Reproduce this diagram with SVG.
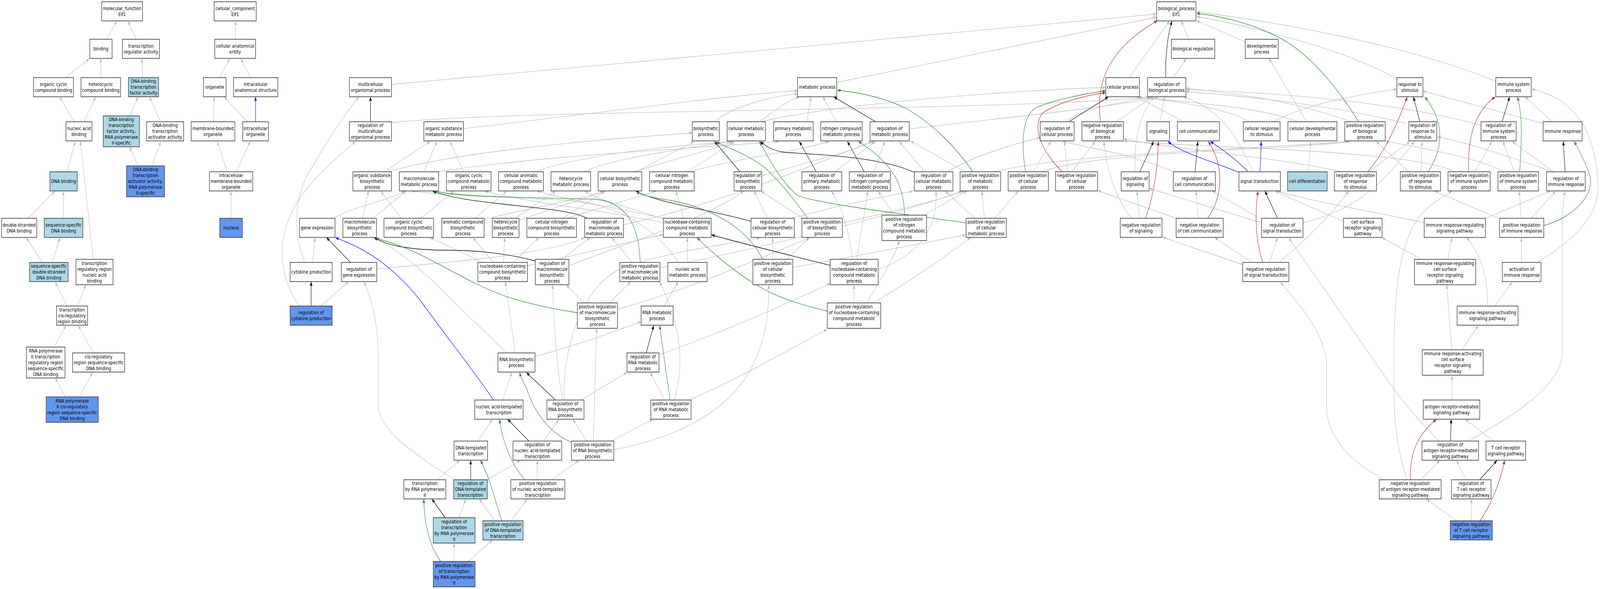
<svg xmlns="http://www.w3.org/2000/svg" width="5096" height="1507" viewBox="0 0 5096 1507" preserveAspectRatio="none">
<style>
:root{width:100vw;height:100vh}
.nd rect{stroke:#333;stroke-width:1.6}
.w{fill:#fff}.lb{fill:#ADD8E6}.cb{fill:#6495ED}
text{font-family:"DejaVu Sans","Liberation Sans",sans-serif;font-size:12.8px;fill:#000;text-anchor:middle}
#edges path{fill:none;stroke-width:1.3}
.g{stroke:#BEBEBE;marker-end:url(#mg)}
.k{stroke:#000;marker-end:url(#mk)}
.b{stroke:#0000FF;marker-end:url(#mb)}
.gr{stroke:#228B22;marker-end:url(#mgr)}
.r{stroke:#B22222;marker-end:url(#mr)}
</style>
<defs>
<marker id="mg" viewBox="0 0 10 8" refX="10" refY="4" markerWidth="10" markerHeight="8" markerUnits="userSpaceOnUse" orient="auto"><path d="M0,0L10,4L0,8z" fill="#BEBEBE"/></marker>
<marker id="mk" viewBox="0 0 10 8" refX="10" refY="4" markerWidth="10" markerHeight="8" markerUnits="userSpaceOnUse" orient="auto"><path d="M0,0L10,4L0,8z" fill="#000"/></marker>
<marker id="mb" viewBox="0 0 10 8" refX="10" refY="4" markerWidth="10" markerHeight="8" markerUnits="userSpaceOnUse" orient="auto"><path d="M0,0L10,4L0,8z" fill="#0000FF"/></marker>
<marker id="mgr" viewBox="0 0 10 8" refX="10" refY="4" markerWidth="10" markerHeight="8" markerUnits="userSpaceOnUse" orient="auto"><path d="M0,0L10,4L0,8z" fill="#228B22"/></marker>
<marker id="mr" viewBox="0 0 10 8" refX="10" refY="4" markerWidth="10" markerHeight="8" markerUnits="userSpaceOnUse" orient="auto"><path d="M0,0L10,4L0,8z" fill="#B22222"/></marker>
</defs>
<rect x="0" y="0" width="5096" height="1507" fill="#fff"/>
<g id="edges">
<path class="g" d="M339,101 L372,54"/>
<path class="g" d="M434,101 L408,54"/>
<path class="g" d="M208,199 L285,150"/>
<path class="g" d="M321,199 L321,150"/>
<path class="g" d="M454,198 L452,150"/>
<path class="g" d="M235,311 L190,248"/>
<path class="g" d="M267,311 L305,248"/>
<path class="g" d="M412,297 L440,248"/>
<path class="g" d="M511,311 L476,248"/>
<path class="g" d="M213,440 L240,362"/>
<path class="g" d="M297,663 L256,362"/>
<path class="g" d="M440,425 L413,376"/>
<path class="g" d="M484,425 L512,362"/>
<path class="g" d="M89,559 L175,489"/>
<path class="g" d="M202,559 L202,489"/>
<path class="g" d="M134,671 L84,608"/>
<path class="g" d="M167,671 L191,608"/>
<path class="g" d="M213,783 L176,722"/>
<path class="g" d="M246,783 L274,729"/>
<path class="g" d="M172,888 L210,833"/>
<path class="g" d="M297,903 L249,833"/>
<path class="g" d="M208,1016 L176,967"/>
<path class="g" d="M253,1016 L295,953"/>
<path class="g" d="M750,101 L750,54"/>
<path class="g" d="M699,199 L732,150"/>
<path class="g" d="M798,199 L767,150"/>
<path class="g" d="M680,311 L682,248"/>
<path class="g" d="M787,311 L714,248"/>
<path class="b" d="M814,311 L814,248"/>
<path class="g" d="M724,440 L692,362"/>
<path class="g" d="M752,440 L797,362"/>
<path class="g" d="M736,559 L736,489"/>
<path class="g" d="M3786,101 L3762,54"/>
<path class="g" d="M3966,107 L3811,53"/>
<path class="g" d="M3596,199 L3725,54"/>
<path class="g" d="M3736,199 L3778,150"/>
<path class="g" d="M3557,311 L3671,248"/>
<path class="g" d="M1247,216 L3683,36"/>
<path class="g" d="M2665,211 L3683,44"/>
<path class="g" d="M4449,203 C4300,130 4000,70 3811,42"/>
<path class="g" d="M4764,208 C4500,120 4100,60 3811,30"/>
<path class="g" d="M3395,311 C3450,275 3600,258 3662,248"/>
<path class="g" d="M3292,440 L3347,362"/>
<path class="g" d="M3315,440 C3500,385 4100,385 4300,362"/>
<path class="g" d="M3400,440 L3390,362"/>
<path class="g" d="M3413,440 L3489,362"/>
<path class="g" d="M2425,311 C2700,260 3300,228 3522,224"/>
<path class="g" d="M1247,314 C1600,280 3200,285 3668,248"/>
<path class="g" d="M2896,330 C3200,300 3550,275 3690,248"/>
<path class="g" d="M1476,329 C1800,300 2300,245 2540,232"/>
<path class="g" d="M2570,311 L2583,248"/>
<path class="g" d="M2664,311 L2621,248"/>
<path class="g" d="M2421,311 C2460,285 2500,262 2545,248"/>
<path class="g" d="M2277,311 C2330,275 2440,248 2540,240"/>
<path class="g" d="M1224,440 L1370,362"/>
<path class="g" d="M1232,440 C1450,390 1850,360 2205,340"/>
<path class="g" d="M1349,440 L1392,362"/>
<path class="g" d="M1390,440 C1700,400 2200,380 2480,362"/>
<path class="g" d="M1477,440 L1433,362"/>
<path class="g" d="M1700,440 C1900,385 2200,372 2330,362"/>
<path class="g" d="M1857,440 C1950,405 2200,378 2325,362"/>
<path class="g" d="M2020,440 C2150,405 2280,382 2335,362"/>
<path class="g" d="M2025,440 L2210,362"/>
<path class="g" d="M2188,440 L2340,362"/>
<path class="g" d="M2195,440 C2350,405 2550,385 2640,362"/>
<path class="g" d="M2426,450 C2550,420 2700,390 2786,362"/>
<path class="g" d="M2658,440 L2788,362"/>
<path class="g" d="M2783,440 L2818,362"/>
<path class="g" d="M2946,440 L2864,362"/>
<path class="g" d="M3016,440 C3100,400 3220,370 3313,352"/>
<path class="g" d="M3076,440 L2900,361"/>
<path class="g" d="M3163,440 C3400,392 4000,382 4295,362"/>
<path class="g" d="M1061,559 C1120,530 1230,515 1289,489"/>
<path class="g" d="M1154,559 L1174,489"/>
<path class="g" d="M1186,559 L1294,489"/>
<path class="g" d="M1278,559 L1213,489"/>
<path class="g" d="M1340,559 L1446,489"/>
<path class="g" d="M1512,559 L1614,489"/>
<path class="g" d="M1538,562 C1700,530 1850,510 1922,489"/>
<path class="g" d="M1640,559 L1770,489"/>
<path class="g" d="M1650,565 C1750,535 1880,505 1925,489"/>
<path class="g" d="M1803,559 L2090,489"/>
<path class="g" d="M1790,559 L1928,489"/>
<path class="g" d="M1986,575 C2300,520 2600,420 2776,362"/>
<path class="g" d="M2117,559 C1950,530 1800,510 1711,489"/>
<path class="g" d="M2120,562 C2000,530 1900,510 1863,489"/>
<path class="g" d="M2115,570 C1900,535 1650,515 1544,489"/>
<path class="g" d="M2177,559 L2153,489"/>
<path class="g" d="M2445,559 L2402,489"/>
<path class="g" d="M2520,559 C2650,530 2800,505 2908,489"/>
<path class="g" d="M2560,560 L2424,489"/>
<path class="g" d="M2683,570 C2850,540 3000,510 3070,489"/>
<path class="g" d="M2848,551 L2797,489"/>
<path class="g" d="M2940,551 C2990,530 3040,505 3080,489"/>
<path class="g" d="M3105,559 L3011,489"/>
<path class="g" d="M3136,559 L3127,489"/>
<path class="g" d="M3168,559 L3243,489"/>
<path class="g" d="M2715,663 C2705,600 2690,540 2648,489"/>
<path class="g" d="M2729,663 L2764,489"/>
<path class="g" d="M2797,690 C2900,660 2990,600 2981,489"/>
<path class="g" d="M2012,671 L1949,608"/>
<path class="g" d="M2102,685 C2400,640 2900,540 3062,489"/>
<path class="g" d="M2189,671 L2189,608"/>
<path class="g" d="M2160,671 C2100,600 2000,525 1800,512 C1600,505 1420,500 1310,489"/>
<path class="g" d="M2461,663 L2461,608"/>
<path class="g" d="M2508,663 L2577,608"/>
<path class="g" d="M2525,684 C2700,660 2950,620 3076,601"/>
<path class="g" d="M2720,775 L2720,729"/>
<path class="g" d="M2761,775 C2800,720 2850,660 2864,616"/>
<path class="g" d="M2780,775 C2900,720 3020,650 3092,608"/>
<path class="g" d="M995,671 L1004,608"/>
<path class="g" d="M970,671 C935,600 930,500 1000,420 C1050,350 1100,290 1143,248"/>
<path class="g" d="M1200,688 C1450,670 1750,650 1862,608"/>
<path class="g" d="M1538,671 L1370,608"/>
<path class="g" d="M1571,671 L1506,608"/>
<path class="g" d="M1603,671 L1608,608"/>
<path class="g" d="M1636,671 L1716,608"/>
<path class="g" d="M1680,680 C1850,650 2000,620 2112,600"/>
<path class="g" d="M1790,663 L1879,608"/>
<path class="g" d="M1812,680 C2000,620 2250,560 2369,489"/>
<path class="g" d="M956,783 C930,760 890,700 900,620 C920,500 1050,420 1132,362"/>
<path class="g" d="M1022,783 L1110,721"/>
<path class="g" d="M1860,775 L1803,729"/>
<path class="g" d="M1941,775 L2009,721"/>
<path class="g" d="M1967,791 C2200,740 2450,650 2580,608"/>
<path class="g" d="M2115,783 L2160,721"/>
<path class="g" d="M1704,912 C1850,880 1950,850 2042,823"/>
<path class="g" d="M1612,903 C1550,850 1450,780 1380,720 C1300,660 1240,630 1197,608"/>
<path class="g" d="M1640,903 C1630,830 1615,760 1610,721"/>
<path class="g" d="M1601,1023 L1630,953"/>
<path class="g" d="M1852,1023 L1997,953"/>
<path class="g" d="M1792,1023 C1775,950 1765,850 1760,729"/>
<path class="g" d="M1797,1023 C1790,900 1850,720 2000,680 C2200,630 2380,620 2420,608"/>
<path class="g" d="M2117,1023 L2071,953"/>
<path class="g" d="M2196,1023 C2350,970 2500,900 2634,843"/>
<path class="g" d="M2148,1023 C2175,950 2180,850 2101,721"/>
<path class="g" d="M2099,908 C2300,850 2500,780 2644,725"/>
<path class="g" d="M1868,1128 L1825,1073"/>
<path class="g" d="M1947,1128 L2079,1073"/>
<path class="g" d="M1890,1128 L1900,840"/>
<path class="g" d="M1955,1151 C2150,1120 2300,1060 2380,960 C2440,880 2450,800 2448,729"/>
<path class="g" d="M1522,1128 L1568,1073"/>
<path class="g" d="M1732,1128 L1780,1073"/>
<path class="g" d="M1711,1227 L1711,1178"/>
<path class="g" d="M1757,1227 L1845,1178"/>
<path class="g" d="M1392,1227 L1464,1178"/>
<path class="g" d="M1553,1227 L1658,1178"/>
<path class="g" d="M1446,1227 C1300,1150 1210,1100 1205,1040 L1205,920 C1205,820 1180,760 1160,721"/>
<path class="g" d="M1576,1332 L1527,1277"/>
<path class="g" d="M1628,1332 L1679,1277"/>
<path class="g" d="M1462,1325 L1484,1277"/>
<path class="g" d="M1446,1437 L1446,1390"/>
<path class="g" d="M1491,1437 L1568,1382"/>
<path class="g" d="M3695,311 L3709,248"/>
<path class="g" d="M3769,311 L3622,248"/>
<path class="g" d="M4056,311 C4150,270 4300,245 4449,228"/>
<path class="g" d="M3977,311 C3900,272 3700,256 3625,248"/>
<path class="g" d="M4161,311 L4042,150"/>
<path class="g" d="M4131,311 C4000,268 3700,258 3627,248"/>
<path class="g" d="M4167,440 L4175,362"/>
<path class="g" d="M3993,440 C3950,380 3920,290 3770,248"/>
<path class="g" d="M3616,440 C3610,360 3630,290 3676,248"/>
<path class="g" d="M3740,440 C3600,392 3450,376 3385,362"/>
<path class="g" d="M3630,559 L3621,489"/>
<path class="g" d="M3606,559 C3560,520 3525,440 3516,362"/>
<path class="g" d="M3817,559 L3809,489"/>
<path class="g" d="M3748,559 L3497,488"/>
<path class="g" d="M4018,570 L3660,482"/>
<path class="g" d="M4012,559 L3861,489"/>
<path class="g" d="M4150,570 C4350,530 4420,450 4505,362"/>
<path class="g" d="M4043,671 L4069,608"/>
<path class="g" d="M3958,677 L3703,607"/>
<path class="g" d="M3988,671 L3869,608"/>
<path class="g" d="M4075,671 C4150,620 4230,560 4296,489"/>
<path class="g" d="M4279,566 C4200,540 4120,510 4062,489"/>
<path class="g" d="M4536,570 C4400,545 4200,520 4070,489"/>
<path class="g" d="M4731,559 L4938,489"/>
<path class="g" d="M4876,559 L4955,489"/>
<path class="g" d="M4845,559 L4839,489"/>
<path class="g" d="M4776,560 L4570,489"/>
<path class="g" d="M4612,663 L4624,608"/>
<path class="g" d="M4526,663 L4402,608"/>
<path class="g" d="M4846,671 L4846,608"/>
<path class="g" d="M4898,671 C5000,620 5090,560 5090,480 C5085,320 5000,250 4879,228"/>
<path class="g" d="M4738,783 C4740,720 4720,650 4670,608"/>
<path class="g" d="M4762,783 C4780,760 4800,740 4816,722"/>
<path class="g" d="M4656,895 L4708,833"/>
<path class="g" d="M4624,895 L4608,729"/>
<path class="g" d="M4624,1023 L4625,961"/>
<path class="g" d="M4678,1128 C4850,1050 4976,980 4976,900 L4976,560 C4977,530 4980,510 4984,489"/>
<path class="g" d="M4582,1128 C4500,1060 4440,1000 4400,950 L4250,777 L4105,609"/>
<path class="g" d="M4757,1128 L4667,1073"/>
<path class="g" d="M4525,1227 L4586,1178"/>
<path class="g" d="M4407,1227 C4300,1180 4230,1120 4225,1048 L4225,926 C4215,850 4150,790 4078,722"/>
<path class="g" d="M4481,1227 C4450,1150 4440,1080 4440,1000 L4440,860 C4445,700 4470,600 4530,545 C4560,520 4595,505 4624,489"/>
<path class="g" d="M4669,1227 L4639,1178"/>
<path class="g" d="M4686,1332 L4686,1277"/>
<path class="g" d="M4639,1332 L4543,1277"/>
<path class="g" d="M4944,311 L4857,248"/>
<path class="g" d="M4915,316 L4532,233"/>
<path class="g" d="M4949,440 L4816,362"/>
<path class="g" d="M4949,440 C4800,400 4700,370 4578,350"/>
<path class="g" d="M4698,440 L4751,362"/>
<path class="g" d="M4823,440 L4787,362"/>
<path class="g" d="M4637,440 C4500,385 3900,380 3580,361"/>
<path class="g" d="M4792,440 C4700,400 4500,375 4412,361"/>
<path class="g" d="M4274,440 C4100,405 3700,378 3578,355"/>
<path class="g" d="M4358,440 L4491,362"/>
<path class="g" d="M4526,440 L4529,362"/>
<path class="g" d="M4488,440 L4383,362"/>
<path class="g" d="M4477,315 C4200,262 3900,242 3777,234"/>
<path class="g" d="M4717,320 C4400,252 4000,236 3778,229"/>
<path class="g" d="M4301,311 C4100,252 3900,236 3778,226"/>
<path class="k" d="M3713,199 C3711,150 3718,90 3733,54"/>
<path class="k" d="M3405,311 L3530,248"/>
<path class="k" d="M1180,311 L1180,248"/>
<path class="k" d="M2788,311 L2656,248"/>
<path class="k" d="M2357,440 L2276,362"/>
<path class="k" d="M2600,440 L2546,362"/>
<path class="k" d="M2753,440 L2699,362"/>
<path class="k" d="M2912,441 C2800,400 2600,395 2500,390 C2460,385 2440,375 2422,362"/>
<path class="k" d="M1871,559 C1800,525 1500,528 1378,489"/>
<path class="k" d="M2392,566 C2250,535 2100,520 2025,489"/>
<path class="k" d="M2644,679 C2500,650 2350,620 2266,601"/>
<path class="k" d="M1116,671 L1040,608"/>
<path class="k" d="M1706,668 C1600,645 1500,640 1400,640 C1300,638 1230,628 1192,608"/>
<path class="k" d="M991,783 L991,721"/>
<path class="k" d="M2058,903 L2082,833"/>
<path class="k" d="M1769,1023 C1740,1000 1710,980 1677,953"/>
<path class="k" d="M1684,1128 L1617,1073"/>
<path class="k" d="M1499,1227 L1499,1178"/>
<path class="k" d="M1418,1325 L1376,1277"/>
<path class="k" d="M3630,440 L3674,362"/>
<path class="k" d="M3806,440 L3815,362"/>
<path class="k" d="M4069,559 L4029,489"/>
<path class="k" d="M4522,311 L4502,248"/>
<path class="k" d="M4784,311 L4808,248"/>
<path class="k" d="M4985,440 L4979,362"/>
<path class="k" d="M4620,1128 L4622,1073"/>
<path class="k" d="M4713,1227 L4768,1178"/>
<path class="gr" d="M4327,311 C4280,250 4200,160 4100,108 C4010,65 3900,42 3811,34"/>
<path class="gr" d="M3266,440 C3255,380 3250,300 3300,275 C3380,250 3460,240 3522,232"/>
<path class="gr" d="M3099,440 C3040,370 2960,310 2880,275 C2800,245 2720,235 2667,231"/>
<path class="gr" d="M2572,559 C2540,520 2480,460 2430,425 C2360,385 2300,375 2283,362"/>
<path class="gr" d="M2881,551 C2880,480 2850,420 2734,362"/>
<path class="gr" d="M3077,570 C2850,545 2600,520 2540,500 C2480,460 2440,390 2418,362"/>
<path class="gr" d="M2039,671 C2035,580 2000,520 1900,510 C1700,505 1480,505 1382,489"/>
<path class="gr" d="M2429,663 C2390,600 2300,540 2150,515 C2080,505 2040,500 2027,489"/>
<path class="gr" d="M2635,796 C2550,780 2470,760 2405,727 C2330,690 2260,640 2220,608"/>
<path class="gr" d="M1839,800 C1750,790 1650,770 1600,755 C1450,710 1350,640 1197,610"/>
<path class="gr" d="M2134,1023 L2101,833"/>
<path class="gr" d="M1820,1131 C1750,1110 1700,1050 1680,1000 C1670,980 1660,970 1655,953"/>
<path class="gr" d="M1671,1227 C1630,1190 1600,1130 1591,1073"/>
<path class="gr" d="M1598,1332 C1580,1290 1560,1220 1530,1178"/>
<path class="gr" d="M1404,1437 C1370,1400 1350,1340 1350,1277"/>
<path class="gr" d="M4548,440 C4590,390 4610,320 4538,248"/>
<path class="gr" d="M4840,440 C4848,350 4848,290 4833,248"/>
<path class="gr" d="M4917,577 C5000,560 5090,500 5060,440 C5045,410 5030,385 5014,362"/>
<path class="r" d="M3505,311 C3490,220 3520,130 3686,53"/>
<path class="r" d="M3385,440 C3330,400 3280,330 3320,290 C3360,265 3450,245 3522,237"/>
<path class="r" d="M3648,559 C3675,500 3688,430 3689,362"/>
<path class="r" d="M3846,559 C3890,510 3905,430 3848,362"/>
<path class="r" d="M4022,671 C4000,620 3995,550 4007,489"/>
<path class="r" d="M4355,440 C4400,400 4440,340 4482,248"/>
<path class="r" d="M4677,440 C4675,360 4690,290 4762,248"/>
<path class="r" d="M4492,1227 C4490,1150 4520,1110 4575,1073"/>
<path class="r" d="M4714,1332 C4750,1290 4780,1230 4792,1178"/>
<path class="b" d="M1572,1024 C1520,960 1420,860 1340,770 C1260,690 1180,640 1068,608"/>
<path class="b" d="M3946,441 C3850,410 3760,390 3720,362"/>
<path class="b" d="M3976,440 C3940,410 3890,380 3855,362"/>
<path class="b" d="M4013,440 L4017,362"/>
</g>
<g id="mf" class="nd"><rect class="w" x="324" y="4.5" width="130" height="49"/><text x="389" y="26"><tspan x="389">molecular_function</tspan><tspan x="389" dy="15">Elf1</tspan></text></g>
<g id="binding" class="nd"><rect class="w" x="286" y="100.5" width="71" height="49"/><text x="321.5" y="129.5">binding</text></g>
<g id="trra" class="nd"><rect class="w" x="390" y="100.5" width="118" height="49"/><text x="449" y="122"><tspan x="449">transcription</tspan><tspan x="449" dy="15">regulator activity</tspan></text></g>
<g id="occb" class="nd"><rect class="w" x="107" y="198.5" width="127" height="49"/><text x="170.5" y="220"><tspan x="170.5">organic cyclic</tspan><tspan x="170.5" dy="15">compound binding</tspan></text></g>
<g id="hcb" class="nd"><rect class="w" x="258" y="198.5" width="126" height="49"/><text x="321" y="220"><tspan x="321">heterocyclic</tspan><tspan x="321" dy="15">compound binding</tspan></text></g>
<g id="dbtfa" class="nd"><rect class="lb" x="409" y="198.5" width="96" height="49"/><text x="457" y="212.5"><tspan x="457">DNA-binding</tspan><tspan x="457" dy="15">transcription</tspan><tspan x="457" dy="15">factor activity</tspan></text></g>
<g id="nab" class="nd"><rect class="w" x="210" y="311.5" width="83" height="49"/><text x="251.5" y="333"><tspan x="251.5">nucleic acid</tspan><tspan x="251.5" dy="15">binding</tspan></text></g>
<g id="dbtfa2" class="nd"><rect class="lb" x="329" y="296.5" width="115" height="79"/><text x="386.5" y="310.5"><tspan x="386.5">DNA-binding</tspan><tspan x="386.5" dy="15">transcription</tspan><tspan x="386.5" dy="15">factor activity,</tspan><tspan x="386.5" dy="15">RNA polymerase</tspan><tspan x="386.5" dy="15">II-specific</tspan></text></g>
<g id="dbtaa" class="nd"><rect class="w" x="467" y="311.5" width="118" height="49"/><text x="526" y="325.5"><tspan x="526">DNA-binding</tspan><tspan x="526" dy="15">transcription</tspan><tspan x="526" dy="15">activator activity</tspan></text></g>
<g id="dnab" class="nd"><rect class="lb" x="159" y="439.5" width="87" height="49"/><text x="202.5" y="468.5">DNA binding</text></g>
<g id="dbtaa2" class="nd"><rect class="cb" x="403" y="424.5" width="121" height="79"/><text x="463.5" y="438.5"><tspan x="463.5">DNA-binding</tspan><tspan x="463.5" dy="15">transcription</tspan><tspan x="463.5" dy="15">activator activity,</tspan><tspan x="463.5" dy="15">RNA polymerase</tspan><tspan x="463.5" dy="15">II-specific</tspan></text></g>
<g id="dsdb" class="nd"><rect class="w" x="5" y="558.5" width="112" height="49"/><text x="61" y="580"><tspan x="61">double-stranded</tspan><tspan x="61" dy="15">DNA binding</tspan></text></g>
<g id="ssdb" class="nd"><rect class="lb" x="141" y="558.5" width="123" height="49"/><text x="202.5" y="580"><tspan x="202.5">sequence-specific</tspan><tspan x="202.5" dy="15">DNA binding</tspan></text></g>
<g id="ssdsdb" class="nd"><rect class="lb" x="94" y="671.5" width="123" height="49"/><text x="155.5" y="685.5"><tspan x="155.5">sequence-specific</tspan><tspan x="155.5" dy="15">double-stranded</tspan><tspan x="155.5" dy="15">DNA binding</tspan></text></g>
<g id="trrnab" class="nd"><rect class="w" x="242" y="663.5" width="118" height="65"/><text x="301" y="678"><tspan x="301">transcription</tspan><tspan x="301" dy="15">regulatory region</tspan><tspan x="301" dy="15">nucleic acid</tspan><tspan x="301" dy="15">binding</tspan></text></g>
<g id="tcrrb" class="nd"><rect class="w" x="180" y="783" width="99" height="49"/><text x="229.5" y="797"><tspan x="229.5">transcription</tspan><tspan x="229.5" dy="15">cis-regulatory</tspan><tspan x="229.5" dy="15">region binding</tspan></text></g>
<g id="rp2trr" class="nd"><rect class="w" x="84" y="888" width="123" height="79"/><text x="145.5" y="902"><tspan x="145.5">RNA polymerase</tspan><tspan x="145.5" dy="15">II transcription</tspan><tspan x="145.5" dy="15">regulatory region</tspan><tspan x="145.5" dy="15">sequence-specific</tspan><tspan x="145.5" dy="15">DNA binding</tspan></text></g>
<g id="crrssdb" class="nd"><rect class="w" x="231" y="903" width="166" height="49"/><text x="314" y="917"><tspan x="314">cis-regulatory</tspan><tspan x="314" dy="15">region sequence-specific</tspan><tspan x="314" dy="15">DNA binding</tspan></text></g>
<g id="rp2crr" class="nd"><rect class="cb" x="147" y="1015.5" width="166" height="65"/><text x="230" y="1030"><tspan x="230">RNA polymerase</tspan><tspan x="230" dy="15">II cis-regulatory</tspan><tspan x="230" dy="15">region sequence-specific</tspan><tspan x="230" dy="15">DNA binding</tspan></text></g>
<g id="cc" class="nd"><rect class="w" x="682" y="4.5" width="134" height="49"/><text x="749" y="26"><tspan x="749">cellular_component</tspan><tspan x="749" dy="15">Elf1</tspan></text></g>
<g id="cae" class="nd"><rect class="w" x="684" y="100.5" width="130" height="49"/><text x="749" y="122"><tspan x="749">cellular anatomical</tspan><tspan x="749" dy="15">entity</tspan></text></g>
<g id="org" class="nd"><rect class="w" x="648" y="198.5" width="72" height="49"/><text x="684" y="227.5">organelle</text></g>
<g id="ias" class="nd"><rect class="w" x="744" y="198.5" width="141" height="49"/><text x="814.5" y="220"><tspan x="814.5">intracellular</tspan><tspan x="814.5" dy="15">anatomical structure</tspan></text></g>
<g id="mbo" class="nd"><rect class="w" x="609" y="311.5" width="139" height="49"/><text x="678.5" y="333"><tspan x="678.5">membrane-bounded</tspan><tspan x="678.5" dy="15">organelle</tspan></text></g>
<g id="io" class="nd"><rect class="w" x="773" y="311.5" width="82" height="49"/><text x="814" y="333"><tspan x="814">intracellular</tspan><tspan x="814" dy="15">organelle</tspan></text></g>
<g id="imbo" class="nd"><rect class="w" x="667" y="439.5" width="138" height="49"/><text x="736" y="453.5"><tspan x="736">intracellular</tspan><tspan x="736" dy="15">membrane-bounded</tspan><tspan x="736" dy="15">organelle</tspan></text></g>
<g id="nuc" class="nd"><rect class="cb" x="700" y="558.5" width="72" height="49"/><text x="736" y="587.5">nucleus</text></g>
<g id="bp" class="nd"><rect class="w" x="3684" y="4.5" width="125" height="49"/><text x="3746.5" y="26"><tspan x="3746.5">biological_process</tspan><tspan x="3746.5" dy="15">Elf1</tspan></text></g>
<g id="breg" class="nd"><rect class="w" x="3731" y="100.5" width="138" height="49"/><text x="3800" y="129.5">biological regulation</text></g>
<g id="dev" class="nd"><rect class="w" x="3966" y="100.5" width="105" height="49"/><text x="4018.5" y="122"><tspan x="4018.5">developmental</tspan><tspan x="4018.5" dy="15">process</tspan></text></g>
<g id="mop" class="nd"><rect class="w" x="1113" y="198.5" width="134" height="49"/><text x="1180" y="220"><tspan x="1180">multicellular</tspan><tspan x="1180" dy="15">organismal process</tspan></text></g>
<g id="mp" class="nd"><rect class="w" x="2540" y="198.5" width="125" height="49"/><text x="2602.5" y="227.5">metabolic process</text></g>
<g id="cp" class="nd"><rect class="w" x="3522" y="198.5" width="107" height="49"/><text x="3575.5" y="227.5">cellular process</text></g>
<g id="rbp" class="nd"><rect class="w" x="3655" y="198.5" width="122" height="49"/><text x="3716" y="220"><tspan x="3716">regulation of</tspan><tspan x="3716" dy="15">biological process</tspan></text></g>
<g id="rs" class="nd"><rect class="w" x="4449" y="198.5" width="83" height="49"/><text x="4490.5" y="220"><tspan x="4490.5">response to</tspan><tspan x="4490.5" dy="15">stimulus</tspan></text></g>
<g id="isp" class="nd"><rect class="w" x="4764" y="198.5" width="113" height="49"/><text x="4820.5" y="220"><tspan x="4820.5">immune system</tspan><tspan x="4820.5" dy="15">process</tspan></text></g>
<g id="rmop" class="nd"><rect class="w" x="1113" y="311.5" width="134" height="49"/><text x="1180" y="325.5"><tspan x="1180">regulation of</tspan><tspan x="1180" dy="15">multicellular</tspan><tspan x="1180" dy="15">organismal process</tspan></text></g>
<g id="osmp" class="nd"><rect class="w" x="1350" y="311.5" width="126" height="49"/><text x="1413" y="333"><tspan x="1413">organic substance</tspan><tspan x="1413" dy="15">metabolic process</tspan></text></g>
<g id="bsp" class="nd"><rect class="w" x="2205" y="311.5" width="86" height="49"/><text x="2248" y="333"><tspan x="2248">biosynthetic</tspan><tspan x="2248" dy="15">process</tspan></text></g>
<g id="cmp" class="nd"><rect class="w" x="2316" y="311.5" width="122" height="49"/><text x="2377" y="333"><tspan x="2377">cellular metabolic</tspan><tspan x="2377" dy="15">process</tspan></text></g>
<g id="pmp" class="nd"><rect class="w" x="2464" y="311.5" width="126" height="49"/><text x="2527" y="333"><tspan x="2527">primary metabolic</tspan><tspan x="2527" dy="15">process</tspan></text></g>
<g id="ncmp" class="nd"><rect class="w" x="2614" y="311.5" width="132" height="49"/><text x="2680" y="333"><tspan x="2680">nitrogen compound</tspan><tspan x="2680" dy="15">metabolic process</tspan></text></g>
<g id="rmp" class="nd"><rect class="w" x="2771" y="311.5" width="125" height="49"/><text x="2833.5" y="333"><tspan x="2833.5">regulation of</tspan><tspan x="2833.5" dy="15">metabolic process</tspan></text></g>
<g id="rcp" class="nd"><rect class="w" x="3313" y="311.5" width="108" height="49"/><text x="3367" y="333"><tspan x="3367">regulation of</tspan><tspan x="3367" dy="15">cellular process</tspan></text></g>
<g id="nrbp" class="nd"><rect class="w" x="3446" y="311.5" width="132" height="49"/><text x="3512" y="325.5"><tspan x="3512">negative regulation</tspan><tspan x="3512" dy="15">of biological</tspan><tspan x="3512" dy="15">process</tspan></text></g>
<g id="sig" class="nd"><rect class="w" x="3653" y="311.5" width="72" height="49"/><text x="3689" y="340.5">signaling</text></g>
<g id="cc2" class="nd"><rect class="w" x="3750" y="311.5" width="134" height="49"/><text x="3817" y="340.5">cell communication</text></g>
<g id="crs" class="nd"><rect class="w" x="3960" y="311.5" width="117" height="49"/><text x="4018.5" y="333"><tspan x="4018.5">cellular response</tspan><tspan x="4018.5" dy="15">to stimulus</tspan></text></g>
<g id="cdp" class="nd"><rect class="w" x="4102" y="311.5" width="156" height="49"/><text x="4180" y="333"><tspan x="4180">cellular developmental</tspan><tspan x="4180" dy="15">process</tspan></text></g>
<g id="prbp" class="nd"><rect class="w" x="4283" y="311.5" width="129" height="49"/><text x="4347.5" y="325.5"><tspan x="4347.5">positive regulation</tspan><tspan x="4347.5" dy="15">of biological</tspan><tspan x="4347.5" dy="15">process</tspan></text></g>
<g id="rrs" class="nd"><rect class="w" x="4487" y="311.5" width="89" height="49"/><text x="4531.5" y="325.5"><tspan x="4531.5">regulation of</tspan><tspan x="4531.5" dy="15">response to</tspan><tspan x="4531.5" dy="15">stimulus</tspan></text></g>
<g id="risp" class="nd"><rect class="w" x="4717" y="311.5" width="112" height="49"/><text x="4773" y="325.5"><tspan x="4773">regulation of</tspan><tspan x="4773" dy="15">immune system</tspan><tspan x="4773" dy="15">process</tspan></text></g>
<g id="ir" class="nd"><rect class="w" x="4915" y="311.5" width="124" height="49"/><text x="4977" y="340.5">immune response</text></g>
<g id="osbp" class="nd"><rect class="w" x="1124" y="439.5" width="123" height="49"/><text x="1185.5" y="453.5"><tspan x="1185.5">organic substance</tspan><tspan x="1185.5" dy="15">biosynthetic</tspan><tspan x="1185.5" dy="15">process</tspan></text></g>
<g id="mmp" class="nd"><rect class="w" x="1272" y="439.5" width="125" height="49"/><text x="1334.5" y="461"><tspan x="1334.5">macromolecule</tspan><tspan x="1334.5" dy="15">metabolic process</tspan></text></g>
<g id="occmp" class="nd"><rect class="w" x="1422" y="439.5" width="142" height="49"/><text x="1493" y="453.5"><tspan x="1493">organic cyclic</tspan><tspan x="1493" dy="15">compound metabolic</tspan><tspan x="1493" dy="15">process</tspan></text></g>
<g id="camp" class="nd"><rect class="w" x="1588" y="439.5" width="143" height="49"/><text x="1659.5" y="453.5"><tspan x="1659.5">cellular aromatic</tspan><tspan x="1659.5" dy="15">compound metabolic</tspan><tspan x="1659.5" dy="15">process</tspan></text></g>
<g id="hmp" class="nd"><rect class="w" x="1755" y="439.5" width="126" height="49"/><text x="1818" y="461"><tspan x="1818">heterocycle</tspan><tspan x="1818" dy="15">metabolic process</tspan></text></g>
<g id="cbp" class="nd"><rect class="w" x="1905" y="439.5" width="139" height="49"/><text x="1974.5" y="461"><tspan x="1974.5">cellular biosynthetic</tspan><tspan x="1974.5" dy="15">process</tspan></text></g>
<g id="cncmp" class="nd"><rect class="w" x="2069" y="439.5" width="142" height="49"/><text x="2140" y="453.5"><tspan x="2140">cellular nitrogen</tspan><tspan x="2140" dy="15">compound metabolic</tspan><tspan x="2140" dy="15">process</tspan></text></g>
<g id="rbsp" class="nd"><rect class="w" x="2338" y="439.5" width="88" height="49"/><text x="2382" y="453.5"><tspan x="2382">regulation of</tspan><tspan x="2382" dy="15">biosynthetic</tspan><tspan x="2382" dy="15">process</tspan></text></g>
<g id="rpmp" class="nd"><rect class="w" x="2554" y="439.5" width="127" height="49"/><text x="2617.5" y="453.5"><tspan x="2617.5">regulation of</tspan><tspan x="2617.5" dy="15">primary metabolic</tspan><tspan x="2617.5" dy="15">process</tspan></text></g>
<g id="rncmp" class="nd"><rect class="w" x="2705" y="439.5" width="131" height="49"/><text x="2770.5" y="453.5"><tspan x="2770.5">regulation of</tspan><tspan x="2770.5" dy="15">nitrogen compound</tspan><tspan x="2770.5" dy="15">metabolic process</tspan></text></g>
<g id="rcmp" class="nd"><rect class="w" x="2912" y="439.5" width="123" height="49"/><text x="2973.5" y="453.5"><tspan x="2973.5">regulation of</tspan><tspan x="2973.5" dy="15">cellular metabolic</tspan><tspan x="2973.5" dy="15">process</tspan></text></g>
<g id="prmp" class="nd"><rect class="w" x="3058" y="439.5" width="129" height="49"/><text x="3122.5" y="453.5"><tspan x="3122.5">positive regulation</tspan><tspan x="3122.5" dy="15">of metabolic</tspan><tspan x="3122.5" dy="15">process</tspan></text></g>
<g id="prcp" class="nd"><rect class="w" x="3211" y="439.5" width="128" height="49"/><text x="3275" y="453.5"><tspan x="3275">positive regulation</tspan><tspan x="3275" dy="15">of cellular</tspan><tspan x="3275" dy="15">process</tspan></text></g>
<g id="nrcp" class="nd"><rect class="w" x="3362" y="439.5" width="134" height="49"/><text x="3429" y="453.5"><tspan x="3429">negative regulation</tspan><tspan x="3429" dy="15">of cellular</tspan><tspan x="3429" dy="15">process</tspan></text></g>
<g id="rsig" class="nd"><rect class="w" x="3571" y="439.5" width="89" height="49"/><text x="3615.5" y="461"><tspan x="3615.5">regulation of</tspan><tspan x="3615.5" dy="15">signaling</tspan></text></g>
<g id="rcc" class="nd"><rect class="w" x="3737" y="439.5" width="134" height="49"/><text x="3804" y="461"><tspan x="3804">regulation of</tspan><tspan x="3804" dy="15">cell communication</tspan></text></g>
<g id="st" class="nd"><rect class="w" x="3946" y="439.5" width="132" height="49"/><text x="4012" y="468.5">signal transduction</text></g>
<g id="cd" class="nd"><rect class="lb" x="4101" y="439.5" width="126" height="49"/><text x="4164" y="468.5">cell differentiation</text></g>
<g id="nrrs" class="nd"><rect class="w" x="4250" y="439.5" width="134" height="49"/><text x="4317" y="453.5"><tspan x="4317">negative regulation</tspan><tspan x="4317" dy="15">of response</tspan><tspan x="4317" dy="15">to stimulus</tspan></text></g>
<g id="prrs" class="nd"><rect class="w" x="4460" y="439.5" width="128" height="49"/><text x="4524" y="453.5"><tspan x="4524">positive regulation</tspan><tspan x="4524" dy="15">of response</tspan><tspan x="4524" dy="15">to stimulus</tspan></text></g>
<g id="nrisp" class="nd"><rect class="w" x="4612" y="439.5" width="134" height="49"/><text x="4679" y="453.5"><tspan x="4679">negative regulation</tspan><tspan x="4679" dy="15">of immune system</tspan><tspan x="4679" dy="15">process</tspan></text></g>
<g id="prisp" class="nd"><rect class="w" x="4771" y="439.5" width="129" height="49"/><text x="4835.5" y="453.5"><tspan x="4835.5">positive regulation</tspan><tspan x="4835.5" dy="15">of immune system</tspan><tspan x="4835.5" dy="15">process</tspan></text></g>
<g id="rir" class="nd"><rect class="w" x="4926" y="439.5" width="123" height="49"/><text x="4987.5" y="461"><tspan x="4987.5">regulation of</tspan><tspan x="4987.5" dy="15">immune response</tspan></text></g>
<g id="ge" class="nd"><rect class="w" x="954" y="558.5" width="113" height="49"/><text x="1010.5" y="587.5">gene expression</text></g>
<g id="mbp" class="nd"><rect class="w" x="1092" y="558.5" width="107" height="49"/><text x="1145.5" y="572.5"><tspan x="1145.5">macromolecule</tspan><tspan x="1145.5" dy="15">biosynthetic</tspan><tspan x="1145.5" dy="15">process</tspan></text></g>
<g id="occbp" class="nd"><rect class="w" x="1223" y="558.5" width="158" height="49"/><text x="1302" y="572.5"><tspan x="1302">organic cyclic</tspan><tspan x="1302" dy="15">compound biosynthetic</tspan><tspan x="1302" dy="15">process</tspan></text></g>
<g id="acbp" class="nd"><rect class="w" x="1407" y="558.5" width="135" height="49"/><text x="1474.5" y="572.5"><tspan x="1474.5">aromatic compound</tspan><tspan x="1474.5" dy="15">biosynthetic</tspan><tspan x="1474.5" dy="15">process</tspan></text></g>
<g id="hbp" class="nd"><rect class="w" x="1568" y="558.5" width="85" height="49"/><text x="1610.5" y="572.5"><tspan x="1610.5">heterocycle</tspan><tspan x="1610.5" dy="15">biosynthetic</tspan><tspan x="1610.5" dy="15">process</tspan></text></g>
<g id="cncbp" class="nd"><rect class="w" x="1678" y="558.5" width="158" height="49"/><text x="1757" y="572.5"><tspan x="1757">cellular nitrogen</tspan><tspan x="1757" dy="15">compound biosynthetic</tspan><tspan x="1757" dy="15">process</tspan></text></g>
<g id="rmmp" class="nd"><rect class="w" x="1862" y="558.5" width="124" height="49"/><text x="1924" y="572.5"><tspan x="1924">regulation of</tspan><tspan x="1924" dy="15">macromolecule</tspan><tspan x="1924" dy="15">metabolic process</tspan></text></g>
<g id="nucmp" class="nd"><rect class="w" x="2113" y="558.5" width="152" height="49"/><text x="2189" y="572.5"><tspan x="2189">nucleobase-containing</tspan><tspan x="2189" dy="15">compound metabolic</tspan><tspan x="2189" dy="15">process</tspan></text></g>
<g id="rcbp" class="nd"><rect class="w" x="2392" y="558.5" width="138" height="49"/><text x="2461" y="572.5"><tspan x="2461">regulation of</tspan><tspan x="2461" dy="15">cellular biosynthetic</tspan><tspan x="2461" dy="15">process</tspan></text></g>
<g id="prbsp" class="nd"><rect class="w" x="2554" y="558.5" width="129" height="49"/><text x="2618.5" y="572.5"><tspan x="2618.5">positive regulation</tspan><tspan x="2618.5" dy="15">of biosynthetic</tspan><tspan x="2618.5" dy="15">process</tspan></text></g>
<g id="prncmp" class="nd"><rect class="w" x="2809" y="550.5" width="142" height="65"/><text x="2880" y="565"><tspan x="2880">positive regulation</tspan><tspan x="2880" dy="15">of nitrogen</tspan><tspan x="2880" dy="15">compound metabolic</tspan><tspan x="2880" dy="15">process</tspan></text></g>
<g id="prcmp" class="nd"><rect class="w" x="3077" y="558.5" width="128" height="49"/><text x="3141" y="572.5"><tspan x="3141">positive regulation</tspan><tspan x="3141" dy="15">of cellular</tspan><tspan x="3141" dy="15">metabolic process</tspan></text></g>
<g id="nrsig" class="nd"><rect class="w" x="3568" y="558.5" width="133" height="49"/><text x="3634.5" y="580"><tspan x="3634.5">negative regulation</tspan><tspan x="3634.5" dy="15">of signaling</tspan></text></g>
<g id="nrcc" class="nd"><rect class="w" x="3746" y="558.5" width="150" height="49"/><text x="3821" y="580"><tspan x="3821">negative regulation</tspan><tspan x="3821" dy="15">of cell communication</tspan></text></g>
<g id="rst" class="nd"><rect class="w" x="4018" y="558.5" width="132" height="49"/><text x="4084" y="580"><tspan x="4084">regulation of</tspan><tspan x="4084" dy="15">signal transduction</tspan></text></g>
<g id="csrsp" class="nd"><rect class="w" x="4279" y="558.5" width="123" height="49"/><text x="4340.5" y="572.5"><tspan x="4340.5">cell surface</tspan><tspan x="4340.5" dy="15">receptor signaling</tspan><tspan x="4340.5" dy="15">pathway</tspan></text></g>
<g id="irrsp" class="nd"><rect class="w" x="4536" y="558.5" width="195" height="49"/><text x="4633.5" y="580"><tspan x="4633.5">immune response-regulating</tspan><tspan x="4633.5" dy="15">signaling pathway</tspan></text></g>
<g id="prir" class="nd"><rect class="w" x="4776" y="558.5" width="141" height="49"/><text x="4846.5" y="580"><tspan x="4846.5">positive regulation</tspan><tspan x="4846.5" dy="15">of immune response</tspan></text></g>
<g id="cyp" class="nd"><rect class="w" x="924" y="671.5" width="134" height="49"/><text x="991" y="700.5">cytokine production</text></g>
<g id="rge" class="nd"><rect class="w" x="1087" y="671.5" width="113" height="49"/><text x="1143.5" y="693"><tspan x="1143.5">regulation of</tspan><tspan x="1143.5" dy="15">gene expression</tspan></text></g>
<g id="nucbp" class="nd"><rect class="w" x="1522" y="671.5" width="158" height="49"/><text x="1601" y="685.5"><tspan x="1601">nucleobase-containing</tspan><tspan x="1601" dy="15">compound biosynthetic</tspan><tspan x="1601" dy="15">process</tspan></text></g>
<g id="rmbp" class="nd"><rect class="w" x="1705" y="663.5" width="107" height="65"/><text x="1758.5" y="678"><tspan x="1758.5">regulation of</tspan><tspan x="1758.5" dy="15">macromolecule</tspan><tspan x="1758.5" dy="15">biosynthetic</tspan><tspan x="1758.5" dy="15">process</tspan></text></g>
<g id="prmmp" class="nd"><rect class="w" x="1974" y="671.5" width="128" height="49"/><text x="2038" y="685.5"><tspan x="2038">positive regulation</tspan><tspan x="2038" dy="15">of macromolecule</tspan><tspan x="2038" dy="15">metabolic process</tspan></text></g>
<g id="namp" class="nd"><rect class="w" x="2127" y="671.5" width="125" height="49"/><text x="2189.5" y="693"><tspan x="2189.5">nucleic acid</tspan><tspan x="2189.5" dy="15">metabolic process</tspan></text></g>
<g id="prcbp" class="nd"><rect class="w" x="2398" y="663.5" width="127" height="65"/><text x="2461.5" y="678"><tspan x="2461.5">positive regulation</tspan><tspan x="2461.5" dy="15">of cellular</tspan><tspan x="2461.5" dy="15">biosynthetic</tspan><tspan x="2461.5" dy="15">process</tspan></text></g>
<g id="rnucmp" class="nd"><rect class="w" x="2644" y="663.5" width="153" height="65"/><text x="2720.5" y="678"><tspan x="2720.5">regulation of</tspan><tspan x="2720.5" dy="15">nucleobase-containing</tspan><tspan x="2720.5" dy="15">compound metabolic</tspan><tspan x="2720.5" dy="15">process</tspan></text></g>
<g id="nrst" class="nd"><rect class="w" x="3958" y="671.5" width="147" height="49"/><text x="4031.5" y="693"><tspan x="4031.5">negative regulation</tspan><tspan x="4031.5" dy="15">of signal transduction</tspan></text></g>
<g id="irrcsrsp" class="nd"><rect class="w" x="4505" y="663.5" width="195" height="65"/><text x="4602.5" y="678"><tspan x="4602.5">immune response-regulating</tspan><tspan x="4602.5" dy="15">cell surface</tspan><tspan x="4602.5" dy="15">receptor signaling</tspan><tspan x="4602.5" dy="15">pathway</tspan></text></g>
<g id="air" class="nd"><rect class="w" x="4785" y="671.5" width="123" height="49"/><text x="4846.5" y="693"><tspan x="4846.5">activation of</tspan><tspan x="4846.5" dy="15">immune response</tspan></text></g>
<g id="rcyp" class="nd"><rect class="cb" x="924" y="783" width="134" height="49"/><text x="991" y="804.5"><tspan x="991">regulation of</tspan><tspan x="991" dy="15">cytokine production</tspan></text></g>
<g id="prmbp" class="nd"><rect class="w" x="1839" y="775" width="128" height="65"/><text x="1903" y="789.5"><tspan x="1903">positive regulation</tspan><tspan x="1903" dy="15">of macromolecule</tspan><tspan x="1903" dy="15">biosynthetic</tspan><tspan x="1903" dy="15">process</tspan></text></g>
<g id="rnamp" class="nd"><rect class="w" x="2042" y="783" width="102" height="49"/><text x="2093" y="804.5"><tspan x="2093">RNA metabolic</tspan><tspan x="2093" dy="15">process</tspan></text></g>
<g id="prnucmp" class="nd"><rect class="w" x="2635" y="775" width="170" height="65"/><text x="2720" y="789.5"><tspan x="2720">positive regulation</tspan><tspan x="2720" dy="15">of nucleobase-containing</tspan><tspan x="2720" dy="15">compound metabolic</tspan><tspan x="2720" dy="15">process</tspan></text></g>
<g id="irasp" class="nd"><rect class="w" x="4641" y="783" width="194" height="49"/><text x="4738" y="804.5"><tspan x="4738">immune response-activating</tspan><tspan x="4738" dy="15">signaling pathway</tspan></text></g>
<g id="rnabp" class="nd"><rect class="w" x="1586" y="903" width="118" height="49"/><text x="1645" y="924.5"><tspan x="1645">RNA biosynthetic</tspan><tspan x="1645" dy="15">process</tspan></text></g>
<g id="rrnamp" class="nd"><rect class="w" x="1997" y="903" width="102" height="49"/><text x="2048" y="917"><tspan x="2048">regulation of</tspan><tspan x="2048" dy="15">RNA metabolic</tspan><tspan x="2048" dy="15">process</tspan></text></g>
<g id="iracsrsp" class="nd"><rect class="w" x="4530" y="895" width="194" height="65"/><text x="4627" y="909.5"><tspan x="4627">immune response-activating</tspan><tspan x="4627" dy="15">cell surface</tspan><tspan x="4627" dy="15">receptor signaling</tspan><tspan x="4627" dy="15">pathway</tspan></text></g>
<g id="natt" class="nd"><rect class="w" x="1512" y="1023.5" width="154" height="49"/><text x="1589" y="1045"><tspan x="1589">nucleic acid-templated</tspan><tspan x="1589" dy="15">transcription</tspan></text></g>
<g id="rrnabp" class="nd"><rect class="w" x="1742" y="1023.5" width="118" height="49"/><text x="1801" y="1037.5"><tspan x="1801">regulation of</tspan><tspan x="1801" dy="15">RNA biosynthetic</tspan><tspan x="1801" dy="15">process</tspan></text></g>
<g id="prrnamp" class="nd"><rect class="w" x="2073" y="1023.5" width="128" height="49"/><text x="2137" y="1037.5"><tspan x="2137">positive regulation</tspan><tspan x="2137" dy="15">of RNA metabolic</tspan><tspan x="2137" dy="15">process</tspan></text></g>
<g id="armsp" class="nd"><rect class="w" x="4533" y="1023.5" width="180" height="49"/><text x="4623" y="1045"><tspan x="4623">antigen receptor-mediated</tspan><tspan x="4623" dy="15">signaling pathway</tspan></text></g>
<g id="dtt" class="nd"><rect class="w" x="1446" y="1128.5" width="107" height="49"/><text x="1499.5" y="1150"><tspan x="1499.5">DNA-templated</tspan><tspan x="1499.5" dy="15">transcription</tspan></text></g>
<g id="rnatt" class="nd"><rect class="w" x="1634" y="1128.5" width="155" height="49"/><text x="1711.5" y="1142.5"><tspan x="1711.5">regulation of</tspan><tspan x="1711.5" dy="15">nucleic acid-templated</tspan><tspan x="1711.5" dy="15">transcription</tspan></text></g>
<g id="prrnabp" class="nd"><rect class="w" x="1820" y="1128.5" width="135" height="49"/><text x="1887.5" y="1142.5"><tspan x="1887.5">positive regulation</tspan><tspan x="1887.5" dy="15">of RNA biosynthetic</tspan><tspan x="1887.5" dy="15">process</tspan></text></g>
<g id="rarmsp" class="nd"><rect class="w" x="4529" y="1128.5" width="180" height="49"/><text x="4619" y="1142.5"><tspan x="4619">regulation of</tspan><tspan x="4619" dy="15">antigen receptor-mediated</tspan><tspan x="4619" dy="15">signaling pathway</tspan></text></g>
<g id="tcrsp" class="nd"><rect class="w" x="4733" y="1128.5" width="126" height="49"/><text x="4796" y="1150"><tspan x="4796">T cell receptor</tspan><tspan x="4796" dy="15">signaling pathway</tspan></text></g>
<g id="tr2" class="nd"><rect class="w" x="1286" y="1227.5" width="134" height="49"/><text x="1353" y="1241.5"><tspan x="1353">transcription</tspan><tspan x="1353" dy="15">by RNA polymerase</tspan><tspan x="1353" dy="15">II</tspan></text></g>
<g id="rdtt" class="nd"><rect class="lb" x="1445" y="1227.5" width="107" height="49"/><text x="1498.5" y="1241.5"><tspan x="1498.5">regulation of</tspan><tspan x="1498.5" dy="15">DNA-templated</tspan><tspan x="1498.5" dy="15">transcription</tspan></text></g>
<g id="prnatt" class="nd"><rect class="w" x="1627" y="1227.5" width="172" height="49"/><text x="1713" y="1241.5"><tspan x="1713">positive regulation</tspan><tspan x="1713" dy="15">of nucleic acid-templated</tspan><tspan x="1713" dy="15">transcription</tspan></text></g>
<g id="nrarmsp" class="nd"><rect class="w" x="4393" y="1227.5" width="197" height="49"/><text x="4491.5" y="1241.5"><tspan x="4491.5">negative regulation</tspan><tspan x="4491.5" dy="15">of antigen receptor-mediated</tspan><tspan x="4491.5" dy="15">signaling pathway</tspan></text></g>
<g id="rtcrsp" class="nd"><rect class="w" x="4623" y="1227.5" width="126" height="49"/><text x="4686" y="1241.5"><tspan x="4686">regulation of</tspan><tspan x="4686" dy="15">T cell receptor</tspan><tspan x="4686" dy="15">signaling pathway</tspan></text></g>
<g id="rtr2" class="nd"><rect class="lb" x="1380" y="1324.5" width="133" height="65"/><text x="1446.5" y="1339"><tspan x="1446.5">regulation of</tspan><tspan x="1446.5" dy="15">transcription</tspan><tspan x="1446.5" dy="15">by RNA polymerase</tspan><tspan x="1446.5" dy="15">II</tspan></text></g>
<g id="prdtt" class="nd"><rect class="lb" x="1538" y="1332.5" width="128" height="49"/><text x="1602" y="1346.5"><tspan x="1602">positive regulation</tspan><tspan x="1602" dy="15">of DNA-templated</tspan><tspan x="1602" dy="15">transcription</tspan></text></g>
<g id="nrtcrsp" class="nd"><rect class="cb" x="4619" y="1332.5" width="134" height="49"/><text x="4686" y="1346.5"><tspan x="4686">negative regulation</tspan><tspan x="4686" dy="15">of T cell receptor</tspan><tspan x="4686" dy="15">signaling pathway</tspan></text></g>
<g id="prtr2" class="nd"><rect class="cb" x="1380" y="1436.5" width="133" height="65"/><text x="1446.5" y="1451"><tspan x="1446.5">positive regulation</tspan><tspan x="1446.5" dy="15">of transcription</tspan><tspan x="1446.5" dy="15">by RNA polymerase</tspan><tspan x="1446.5" dy="15">II</tspan></text></g>
</svg>
